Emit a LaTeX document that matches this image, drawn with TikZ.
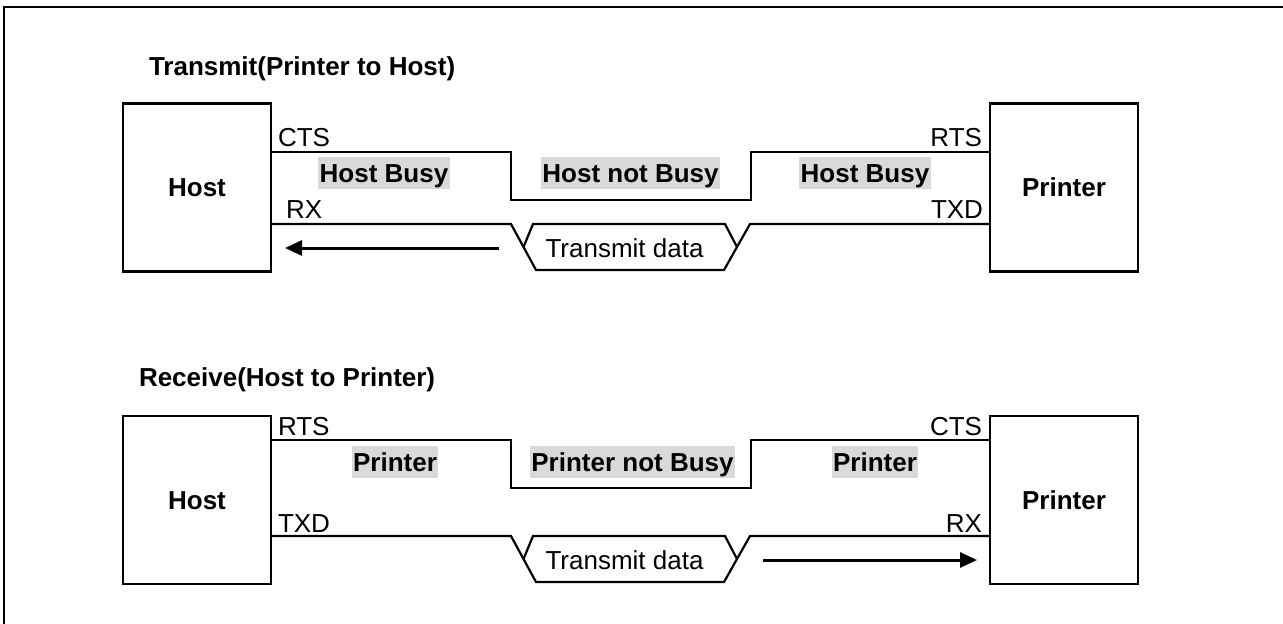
\documentclass[tikz,border=0pt]{standalone}
\usepackage{fontspec}
\setmainfont{Liberation Sans}
\usetikzlibrary{arrows.meta}
\definecolor{boxgray}{HTML}{D9D9D9}
\begin{document}
\begin{tikzpicture}[x=1pt,y=-1pt,
  every node/.style={inner sep=0pt, outer sep=0pt},
  lbl/.style={font=\fontsize{26}{31}\selectfont},
  blbl/.style={font=\fontsize{26}{31}\selectfont\bfseries},
  devbox/.style={draw, line width=2.2pt, minimum width=148pt, minimum height=168pt,
    font=\fontsize{26}{31}\selectfont\bfseries, text height=18.6pt, text depth=0pt},
  graybox/.style={fill=boxgray, font=\fontsize{26}{31}\selectfont\bfseries,
    text height=18.6pt, text depth=0pt, minimum height=32pt, inner xsep=1.5pt},
  datatext/.style={font=\fontsize{26}{31}\selectfont, text height=18.6pt, text depth=0pt},
  sig/.style={line width=2.2pt, line join=miter},
  flow/.style={line width=3pt, -{Triangle[length=17pt,width=15pt]}}]
\useasboundingbox (0,0) rectangle (1283,624);
% frame
\draw[line width=2.2pt, black] (4,624) -- (4,7) -- (1283,7);

% ---------- Transmit ----------
\node[blbl, anchor=base west] (t1) at (149,75) {Transmit(Printer to Host)};
\node[devbox] (host1) at (197,187.5) {Host};
\node[devbox] (prn1) at (1064,187.5) {Printer};

\coordinate (s1a) at (511,152); \coordinate (s1b) at (511,200);
\coordinate (s1c) at (751,200); \coordinate (s1d) at (751,152);
\draw[sig] (host1.east |- s1a) -- (s1a) -- (s1b) -- (s1c) -- (s1d) -- (prn1.west |- s1d);

\coordinate (d1a) at (511,224); \coordinate (d1b) at (536,270);
\coordinate (d1c) at (724,270); \coordinate (d1d) at (750,224);
\coordinate (d1e) at (523.5,247); \coordinate (d1f) at (533,224);
\coordinate (d1g) at (725,224); \coordinate (d1h) at (737,247);
\draw[sig] (host1.east |- d1a) -- (d1a) -- (d1b) -- (d1c) -- (d1d) -- (prn1.west |- d1d);
\draw[sig] (d1e) -- (d1f) -- (d1g) -- (d1h);

\node[lbl, anchor=base west] (cts1) at (278,146) {CTS};
\node[lbl, anchor=base west] (rx1) at (286,218) {RX};
\node[lbl, anchor=base east] (rts1) at (982,146) {RTS};
\node[lbl, anchor=base east] (txd1) at (983,218) {TXD};

\node[graybox] (hb1) at (384,173) {Host Busy};
\node[graybox] (hnb1) at (630.5,173) {Host not Busy};
\node[graybox] (hb2) at (865,173) {Host Busy};

\node[datatext] (td1) at (624.5,248.5) {Transmit data};
\coordinate (a1s) at (499,248); \coordinate (a1e) at (285,248);
\draw[flow] (a1s) -- (a1e);

% ---------- Receive ----------
\node[blbl, anchor=base west] (t2) at (139,386) {Receive(Host to Printer)};
\node[devbox] (host2) at (197,500) {Host};
\node[devbox] (prn2) at (1064,500) {Printer};

\coordinate (s2a) at (511,440); \coordinate (s2b) at (511,488);
\coordinate (s2c) at (751,488); \coordinate (s2d) at (751,440);
\draw[sig] (host2.east |- s2a) -- (s2a) -- (s2b) -- (s2c) -- (s2d) -- (prn2.west |- s2d);

\coordinate (d2a) at (511,536); \coordinate (d2b) at (536,582);
\coordinate (d2c) at (724,582); \coordinate (d2d) at (750,536);
\coordinate (d2e) at (523.5,559); \coordinate (d2f) at (533,536);
\coordinate (d2g) at (725,536); \coordinate (d2h) at (737,559);
\draw[sig] (host2.east |- d2a) -- (d2a) -- (d2b) -- (d2c) -- (d2d) -- (prn2.west |- d2d);
\draw[sig] (d2e) -- (d2f) -- (d2g) -- (d2h);

\node[lbl, anchor=base west] (rts2) at (278,435) {RTS};
\node[lbl, anchor=base west] (txd2) at (278,532) {TXD};
\node[lbl, anchor=base east] (cts2) at (982,435) {CTS};
\node[lbl, anchor=base east] (rx2) at (982,532) {RX};

\node[graybox] (pb1) at (395,462) {Printer\ };
\node[graybox] (pnb1) at (632.5,462) {Printer not Busy};
\node[graybox] (pb2) at (875,462) {Printer\ };

\node[datatext] (td2) at (624.5,560) {Transmit data};
\coordinate (a2s) at (763,560); \coordinate (a2e) at (977,560);
\draw[flow] (a2s) -- (a2e);
\end{tikzpicture}
\end{document}
